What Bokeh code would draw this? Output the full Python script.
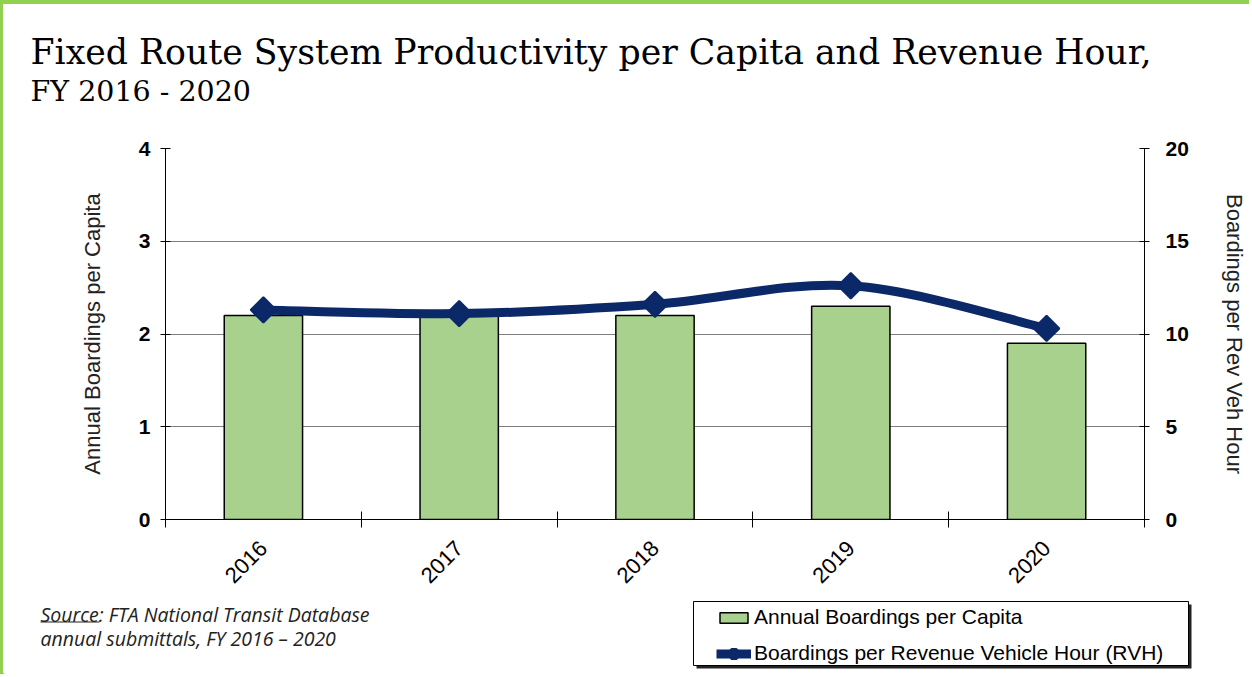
import numpy as np
from bokeh.plotting import figure
from bokeh.layouts import column
from bokeh.models import Range1d, LinearAxis, FixedTicker, Label, Legend, LegendItem, BoxAnnotation
from bokeh.embed import file_html
from bokeh.resources import INLINE

years = ["2016", "2017", "2018", "2019", "2020"]
boardings_per_capita = [2.2, 2.2, 2.2, 2.3, 1.9]
boardings_per_rvh = [11.3, 11.1, 11.6, 12.6, 10.3]
left_ticks = [0, 1, 2, 3, 4]
right_ticks = [0, 5, 10, 15, 20]

title_line1 = "Fixed Route System Productivity per Capita and Revenue Hour,"
title_line2 = "FY 2016 - 2020"
source_line1 = "Source:  FTA National Transit Database"
source_line2 = "annual submittals, FY 2016 \u2013 2020"
legend_bar = "Annual Boardings per Capita"
legend_line = "Boardings per Revenue Vehicle Hour (RVH)"

NAVY = "#0B2868"
GREEN = "#A9D18E"
FONT = "Liberation Sans"
W = 1246
H_TOP, H_MAIN, H_BOT = 124, 464, 82


def blank(h):
    f = figure(width=W, height=h, output_backend="svg", toolbar_location=None,
               x_range=Range1d(0, W), y_range=Range1d(h, 0),
               min_border_left=0, min_border_right=0, min_border_top=0, min_border_bottom=0,
               x_axis_location=None, y_axis_location=None, frame_align=False)
    f.outline_line_color = None
    f.xgrid.grid_line_color = None
    f.ygrid.grid_line_color = None
    return f


# ---------- title strip ----------
top = blank(H_TOP)
top.add_layout(Label(x=27, y=27, text=title_line1, text_font="DejaVu Serif",
                     text_font_size="34.7px", text_baseline="top", text_color="black"))
top.add_layout(Label(x=27, y=70, text=title_line2, text_font="DejaVu Serif",
                     text_font_size="28.5px", text_baseline="top", text_color="black"))

# ---------- main chart ----------
n = len(years)
xs = np.arange(1, n + 1)
bounds = [i + 0.5 for i in range(n + 1)]

p = figure(width=W, height=H_MAIN, output_backend="svg", toolbar_location=None,
           x_range=Range1d(0.5, n + 0.5), y_range=Range1d(left_ticks[0], left_ticks[-1]),
           min_border_left=162, min_border_right=W - 1144, min_border_top=20,
           min_border_bottom=H_MAIN - 20 - 374, frame_align=False)
p.outline_line_color = None
p.extra_y_ranges = {"right": Range1d(right_ticks[0], right_ticks[-1])}

xa = p.xaxis[0]
xa.ticker = FixedTicker(ticks=list(xs), minor_ticks=bounds)
xa.major_label_overrides = {int(x): y for x, y in zip(xs, years)}
xa.major_tick_line_color = None
xa.minor_tick_in = 8
xa.minor_tick_out = 8
xa.minor_tick_line_color = "black"
xa.axis_line_color = "black"
xa.major_label_orientation = np.pi / 4
xa.major_label_text_font = FONT
xa.major_label_text_font_size = "22px"
xa.major_label_text_color = "black"
xa.major_label_standoff = 17
p.xgrid.grid_line_color = None

ya = p.yaxis[0]
ya.ticker = FixedTicker(ticks=left_ticks)
ya.major_tick_in = 5
ya.major_tick_out = 5
ya.minor_tick_line_color = None
ya.major_tick_line_color = "black"
ya.axis_line_color = "black"
ya.major_label_text_font = FONT
ya.major_label_text_font_size = "21px"
ya.major_label_text_font_style = "bold"
ya.major_label_text_color = "black"
ya.major_label_standoff = 10
ya.axis_label = "Annual Boardings per Capita"
ya.axis_label_text_font = FONT
ya.axis_label_text_font_size = "22px"
ya.axis_label_text_font_style = "normal"
ya.axis_label_text_color = "#222222"
ya.axis_label_standoff = 31
p.ygrid.ticker = FixedTicker(ticks=left_ticks)
p.ygrid.grid_line_color = "#7F7F7F"
p.ygrid.grid_line_width = 1

ra = LinearAxis(y_range_name="right", ticker=FixedTicker(ticks=right_ticks))
ra.major_tick_in = 5
ra.major_tick_out = 5
ra.minor_tick_line_color = None
ra.major_tick_line_color = "black"
ra.axis_line_color = "black"
ra.major_label_text_font = FONT
ra.major_label_text_font_size = "21px"
ra.major_label_text_font_style = "bold"
ra.major_label_text_color = "black"
ra.major_label_standoff = 16
ra.axis_label = "Boardings per Rev Veh Hour"
ra.axis_label_text_font = FONT
ra.axis_label_text_font_size = "22px"
ra.axis_label_text_font_style = "normal"
ra.axis_label_text_color = "#222222"
ra.axis_label_standoff = 30
p.add_layout(ra, "right")

p.vbar(x=xs, top=boardings_per_capita, width=0.4, fill_color=GREEN,
       line_color="black", line_width=1.5)

# smoothed line: Catmull-Rom bezier segments through the data points
ys = np.array(boardings_per_rvh, dtype=float)
px = np.concatenate([[xs[0]], xs, [xs[-1]]]).astype(float)
py = np.concatenate([[ys[0]], ys, [ys[-1]]])
x0, y0 = px[1:-2], py[1:-2]
x1, y1 = px[2:-1], py[2:-1]
cx0 = x0 + (px[2:-1] - px[0:-3]) / 6.0
cy0 = y0 + (py[2:-1] - py[0:-3]) / 6.0
cx1 = x1 - (px[3:] - px[1:-2]) / 6.0
cy1 = y1 - (py[3:] - py[1:-2]) / 6.0
p.bezier(x0=x0, y0=y0, x1=x1, y1=y1, cx0=cx0, cy0=cy0, cx1=cx1, cy1=cy1,
         line_color=NAVY, line_width=9, line_cap="round", y_range_name="right")
p.scatter(x=xs, y=ys, marker="square", angle=np.pi / 4, size=18,
          fill_color=NAVY, line_color=NAVY, line_width=2, y_range_name="right")

# ---------- bottom strip: source + legend ----------
bot = blank(H_BOT)
bot.add_layout(Label(x=37, y=8, text=source_line1, text_font="Open Sans",
                     text_font_style="italic", text_font_size="19.5px",
                     text_baseline="top", text_color="#222222"))
bot.add_layout(Label(x=37, y=32, text=source_line2, text_font="Open Sans",
                     text_font_style="italic", text_font_size="19.5px",
                     text_baseline="top", text_color="#222222"))
bot.add_layout(BoxAnnotation(left=37, right=96, top=29, bottom=30, fill_color="#222222",
                             fill_alpha=1, line_color=None))
bot.add_layout(BoxAnnotation(left=693, right=1188, top=12, bottom=76, fill_color="#222222",
                             fill_alpha=1, line_color=None))
bot.add_layout(BoxAnnotation(left=690, right=1185, top=9, bottom=73, fill_color="white",
                             fill_alpha=1, line_color="black", line_width=1, line_alpha=1))

# legend renderers: the same series, drawn on ranges that keep them out of view
bot.extra_x_ranges = {"off": Range1d(100, 200)}
bot.extra_y_ranges = {"off": Range1d(100, 200)}
lg_bar = bot.vbar(x=xs, top=boardings_per_capita, width=0.4, fill_color=GREEN,
                  line_color="black", line_width=1.5, x_range_name="off", y_range_name="off")
lg_line = bot.line(x=xs, y=ys, line_color=NAVY, line_width=9,
                   x_range_name="off", y_range_name="off")
lg_mark = bot.scatter(x=xs, y=ys, marker="square", angle=np.pi / 4, size=18,
                      fill_color=NAVY, line_color=NAVY, line_width=7,
                      x_range_name="off", y_range_name="off")
legend = Legend(items=[
    LegendItem(label=legend_bar, renderers=[lg_bar]),
    LegendItem(label=legend_line, renderers=[lg_line, lg_mark]),
], location=(713, H_BOT - 73))
legend.label_text_font = FONT
legend.label_text_font_size = "21px"
legend.label_text_color = "black"
legend.glyph_width = 35
legend.glyph_height = 13
legend.label_height = 21
legend.label_standoff = 3
legend.spacing = 12
legend.padding = 5
legend.margin = 0
legend.border_line_color = None
legend.background_fill_alpha = 0
bot.add_layout(legend, "center")

layout = column(top, p, bot, spacing=0)
layout.styles = {"border-top": "4px solid #92D050", "border-left": "3px solid #92D050"}

open("out.html", "w").write(file_html(layout, INLINE))
